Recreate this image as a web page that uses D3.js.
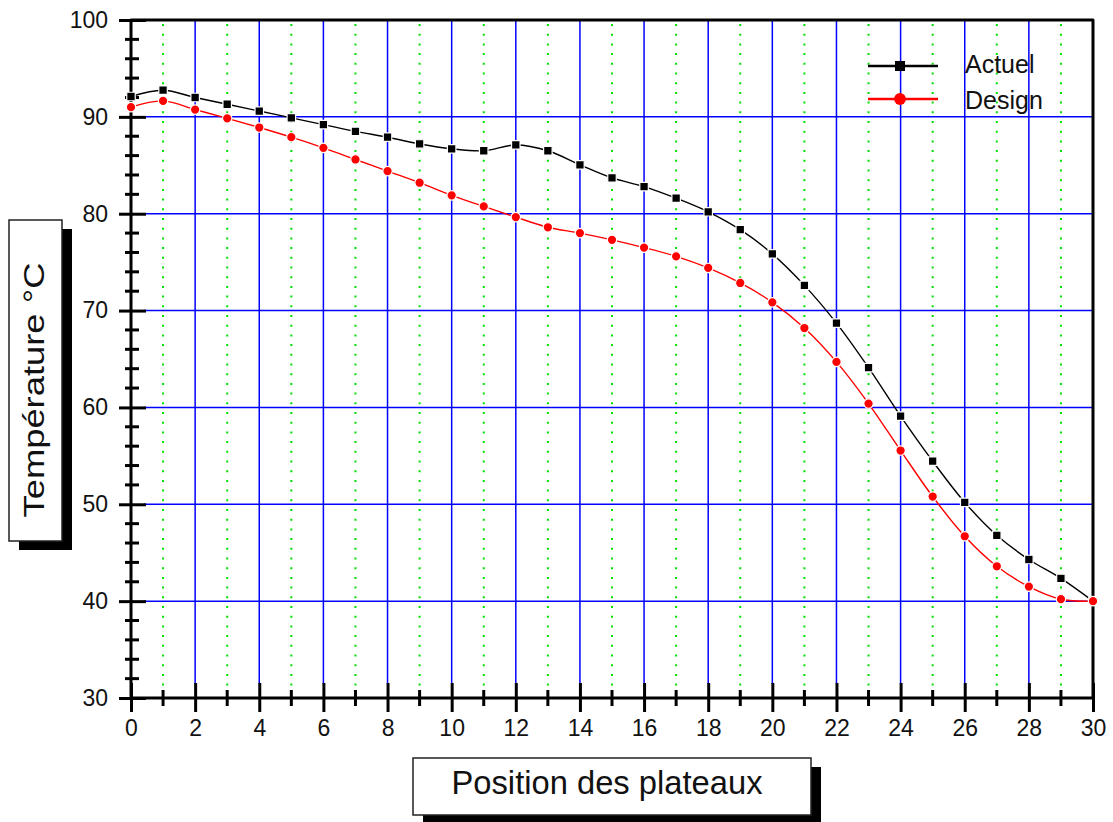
<!DOCTYPE html>
<html>
<head>
<meta charset="utf-8">
<script src="https://cdn.jsdelivr.net/npm/d3@7"></script>
<style>
  body { margin: 0; background: #fff; }
  svg { display: block; font-family: "Liberation Sans", Arial, sans-serif; }
</style>
</head>
<body>
<svg id="chart" width="1113" height="822"></svg>
<script>
// plateau positions
const plateaux = d3.range(0, 31);
// measured ("Actuel") and design temperature profiles, °C
const actuel = [92.1, 92.75, 92.0, 91.3, 90.6, 89.9, 89.2, 88.5, 87.9, 87.2,
                86.7, 86.5, 87.1, 86.5, 85.05, 83.7, 82.8, 81.6, 80.2, 78.35,
                75.85, 72.6, 68.7, 64.1, 59.1, 54.45, 50.2, 46.8, 44.3, 42.35, 40.0];
const design = [91.0, 91.65, 90.75, 89.85, 88.9, 87.9, 86.8, 85.6, 84.4, 83.2,
                81.9, 80.75, 79.65, 78.6, 78.0, 77.3, 76.5, 75.6, 74.4, 72.85,
                70.85, 68.2, 64.7, 60.4, 55.55, 50.8, 46.7, 43.6, 41.5, 40.2, 40.0];
const xMajor = d3.range(0, 31, 2);
const xMinor = d3.range(1, 30, 2);
const yMajor = d3.range(30, 101, 10);
const yMinor = d3.range(30, 101, 2).filter(v => v % 10 !== 0);

const svg = d3.select("#chart");
svg.append("rect").attr("width", 1113).attr("height", 822).attr("fill", "#fff");

const x = d3.scaleLinear().domain([0, 30]).range([131, 1093]);
const y = d3.scaleLinear().domain([30, 100]).range([698, 20]);

// grid
const grid = svg.append("g");
grid.selectAll(".gm").data(xMinor).join("line")
    .attr("x1", d => x(d)).attr("x2", d => x(d))
    .attr("y1", y(100) + 4).attr("y2", y(30) - 8)
    .attr("stroke", "#00e000").attr("stroke-width", 2)
    .attr("stroke-dasharray", "2,7.7");
grid.selectAll(".gx").data(xMajor.filter(d => d > 0 && d < 30)).join("line")
    .attr("x1", d => x(d)).attr("x2", d => x(d))
    .attr("y1", y(100)).attr("y2", y(30) - 14)
    .attr("stroke", "#0000ff").attr("stroke-width", 1.5);
grid.selectAll(".gy").data(yMajor.filter(d => d > 30 && d < 100)).join("line")
    .attr("x1", x(0) + 13).attr("x2", x(30))
    .attr("y1", d => y(d)).attr("y2", d => y(d))
    .attr("stroke", "#0000ff").attr("stroke-width", 1.5);

// frame
svg.append("path")
    .attr("d", `M${x(0)},${y(30)} L${x(0)},${y(100)} L${x(30)},${y(100)} L${x(30)},${y(30)} Z`)
    .attr("fill", "none").attr("stroke", "#000").attr("stroke-width", 3)
    .attr("stroke-linejoin", "round");

// x axis
const xAxis = svg.append("g").attr("transform", `translate(0,${y(30)})`)
    .call(d3.axisBottom(x).tickValues(xMajor).tickFormat(d3.format("d"))
        .tickSize(14).tickPadding(8));
xAxis.select(".domain").remove();
xAxis.selectAll(".tick line").attr("y1", -15).attr("stroke-width", 3);
xAxis.selectAll(".tick text").attr("font-size", 23).attr("fill", "#111")
    .attr("font-family", "Liberation Sans, Arial, sans-serif");
svg.append("g").selectAll("line").data(xMinor).join("line")
    .attr("x1", d => x(d)).attr("x2", d => x(d))
    .attr("y1", y(30) - 8).attr("y2", y(30) + 8)
    .attr("stroke", "#000").attr("stroke-width", 3);

// y axis
const yAxis = svg.append("g").attr("transform", `translate(${x(0)},0)`)
    .call(d3.axisLeft(y).tickValues(yMajor).tickFormat(d3.format("d"))
        .tickSize(12).tickPadding(11));
yAxis.select(".domain").remove();
yAxis.selectAll(".tick line").attr("x2", -12).attr("x1", 15).attr("stroke-width", 3);
yAxis.selectAll(".tick text").attr("font-size", 23).attr("fill", "#111")
    .attr("font-family", "Liberation Sans, Arial, sans-serif");
svg.append("g").selectAll("line").data(yMinor).join("line")
    .attr("x1", x(0) - 6).attr("x2", x(0) + 8)
    .attr("y1", d => y(d)).attr("y2", d => y(d))
    .attr("stroke", "#000").attr("stroke-width", 3);

// series
const series = [
  {name: "Actuel", values: actuel, color: "#000", shape: d3.symbolSquare},
  {name: "Design", values: design, color: "#ff0000", shape: d3.symbolCircle}
];
const line = d3.line().x((d, i) => x(plateaux[i])).y(d => y(d))
    .curve(d3.curveCatmullRom.alpha(0.5));

series.forEach(s => {
  svg.append("path").datum(s.values)
      .attr("d", line).attr("fill", "none")
      .attr("stroke", s.color).attr("stroke-width", 1.4);
  svg.append("g").selectAll("path").data(s.values).join("path")
      .attr("transform", (d, i) => `translate(${x(plateaux[i])},${y(d)})`)
      .attr("d", d3.symbol(s.shape, s.shape === d3.symbolSquare ? 72 : 70))
      .attr("fill", s.color).attr("stroke", "#fff").attr("stroke-width", 1.2);
});

// legend
const legend = svg.append("g");
series.forEach((s, i) => {
  const ly = 66 + i * 33;
  legend.append("line").attr("x1", 868).attr("x2", 938).attr("y1", ly).attr("y2", ly)
      .attr("stroke", s.color).attr("stroke-width", 2.5);
  legend.append("path").attr("transform", `translate(900,${ly})`)
      .attr("d", d3.symbol(s.shape, s.shape === d3.symbolSquare ? 100 : 110))
      .attr("fill", s.color);
  legend.append("text").attr("x", 965).attr("y", 73 + i * 36)
      .attr("font-size", 25).attr("fill", "#111").text(s.name);
});

// axis titles with drop shadow boxes
function titleBox(bx, by, bw, bh, text, tx, ty, rotate, len, size) {
  const g = svg.append("g");
  g.append("rect").attr("x", bx + 10).attr("y", by + 9).attr("width", bw).attr("height", bh)
      .attr("fill", "#000");
  g.append("rect").attr("x", bx).attr("y", by).attr("width", bw).attr("height", bh)
      .attr("fill", "#fff").attr("stroke", "#222").attr("stroke-width", 1.5);
  g.append("text").attr("transform", `translate(${tx},${ty}) rotate(${rotate})`)
      .attr("text-anchor", "middle")
      .attr("textLength", len).attr("lengthAdjust", "spacingAndGlyphs")
      .attr("font-size", size).attr("fill", "#111").text(text);
}
titleBox(9, 220, 53, 321, "Température °C", 44, 390, -90, 255, 30);
titleBox(413, 758, 398, 57, "Position des plateaux", 607, 794, 0, 311, 33);
</script>
</body>
</html>
